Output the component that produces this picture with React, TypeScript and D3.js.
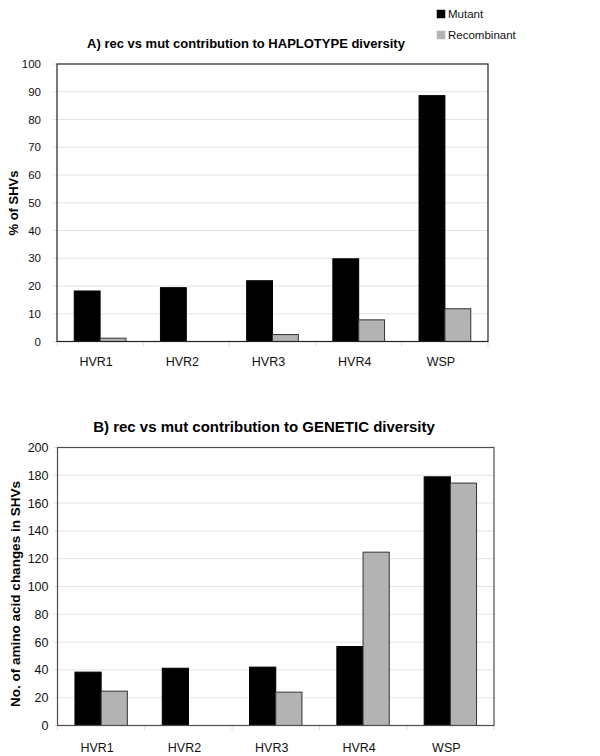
import React from "react";
import * as d3 from "d3";

const categories = ["HVR1", "HVR2", "HVR3", "HVR4", "WSP"];
const seriesNames = ["Mutant", "Recombinant"];
const haploMutant = [18.2, 19.4, 21.9, 29.8, 88.6];
const haploRecombinant = [1.2, 0, 2.5, 7.8, 11.8];
const geneticMutant = [38.4, 41.2, 42, 56.8, 178.9];
const geneticRecombinant = [24.7, 0, 24, 124.7, 174.4];
const haploTicks = [0, 10, 20, 30, 40, 50, 60, 70, 80, 90, 100];
const geneticTicks = [0, 20, 40, 60, 80, 100, 120, 140, 160, 180, 200];

const FONT = "Arial, 'Liberation Sans', sans-serif";
const COLORS = ["#000000", "#b3b3b3"];
const STROKES = ["#000000", "#333333"];

type PanelProps = {
  left: number; right: number; top: number; bottom: number;
  max: number; ticks: number[]; mutant: number[]; recomb: number[];
  title: string; titleX: number; titleY: number; titleSize: number;
  yLabel: string; yLabelX: number; yLabelY: number; yLabelSize: number;
  tickEnd: number; tickSize: number; frame: string; xLabelY: number; xLabelSize: number;
};

function Panel(p: PanelProps) {
  const x = d3.scaleBand<string>().domain(categories).range([p.left, p.right]).padding(0);
  const y = d3.scaleLinear().domain([0, p.max]).range([p.bottom, p.top]);
  const bw = x.bandwidth();
  const inner = d3.scaleBand<string>().domain(seriesNames).range([bw * 0.2, bw * 0.8]).padding(0);
  const series = [p.mutant, p.recomb];
  return (
    <g>
      <text x={p.titleX} y={p.titleY} textAnchor="middle" fontFamily={FONT} fontWeight="bold" fontSize={p.titleSize}>{p.title}</text>
      {p.ticks.map((t) => (
        <g key={t}>
          {t > 0 && t < p.max && (
            <line x1={p.left} x2={p.right} y1={y(t)} y2={y(t)} stroke="#e4e4e4" strokeWidth={1} />
          )}
          <line x1={p.left - 4} x2={p.left} y1={y(t)} y2={y(t)} stroke="#e4e4e4" />
          <text x={p.tickEnd} y={y(t)} dy="0.36em" textAnchor="end" fontFamily={FONT} fontSize={p.tickSize} fill="#111">{t}</text>
        </g>
      ))}
      {d3.range(categories.length + 1).map((i) => {
        const xx = p.left + i * bw;
        return <line key={i} x1={xx} x2={xx} y1={p.bottom} y2={p.bottom + 5} stroke="#dddddd" />;
      })}
      {categories.map((c, i) =>
        series.map((s, j) => {
          const v = s[i];
          if (v <= 0) return null;
          const bx = (x(c) as number) + (inner(seriesNames[j]) as number);
          return (
            <rect key={c + j} x={bx} y={y(v)} width={inner.bandwidth()} height={p.bottom - y(v)}
              fill={COLORS[j]} stroke={STROKES[j]} strokeWidth={1} />
          );
        })
      )}
      <rect x={p.left} y={p.top} width={p.right - p.left} height={p.bottom - p.top} fill="none" stroke={p.frame} strokeWidth={1.2} />
      {categories.map((c) => (
        <text key={c} x={(x(c) as number) + bw / 2 - 4} y={p.xLabelY} textAnchor="middle" fontFamily={FONT} fontSize={p.xLabelSize} fill="#111">{c}</text>
      ))}
      <text transform={`translate(${p.yLabelX},${p.yLabelY}) rotate(-90)`} textAnchor="middle" fontFamily={FONT} fontWeight="bold" fontSize={p.yLabelSize}>{p.yLabel}</text>
    </g>
  );
}

export default function App() {
  return (
    <svg width={600} height={756} style={{ position: "absolute", left: 0, top: 0, background: "#fff" }}>
      <rect x={0} y={0} width={600} height={756} fill="#fff" />
      <Panel left={57} right={488} top={64} bottom={341.5} max={100} ticks={haploTicks}
        mutant={haploMutant} recomb={haploRecombinant}
        title="A) rec vs mut contribution to HAPLOTYPE diversity" titleX={246} titleY={48} titleSize={13}
        yLabel="% of SHVs" yLabelX={17.5} yLabelY={203} yLabelSize={13}
        tickEnd={41} tickSize={11.5} frame="#222" xLabelY={366} xLabelSize={12.5} />
      <Panel left={57.5} right={494} top={447.5} bottom={725.5} max={200} ticks={geneticTicks}
        mutant={geneticMutant} recomb={geneticRecombinant}
        title="B) rec vs mut contribution to GENETIC diversity" titleX={264} titleY={432} titleSize={15}
        yLabel="No. of amino acid changes in SHVs" yLabelX={19.5} yLabelY={594} yLabelSize={13.5}
        tickEnd={48.5} tickSize={12.5} frame="#4d4d4d" xLabelY={751.5} xLabelSize={12.5} />
      {seriesNames.map((s, i) => (
        <g key={s}>
          <rect x={437} y={10 + i * 21} width={8} height={8} fill={COLORS[i]} stroke={i === 0 ? "#000" : "#b3b3b3"} strokeWidth={0.5} />
          <text x={448} y={14 + i * 21} dy="0.36em" fontFamily={FONT} fontSize={11.5} fill="#111">{s}</text>
        </g>
      ))}
    </svg>
  );
}
